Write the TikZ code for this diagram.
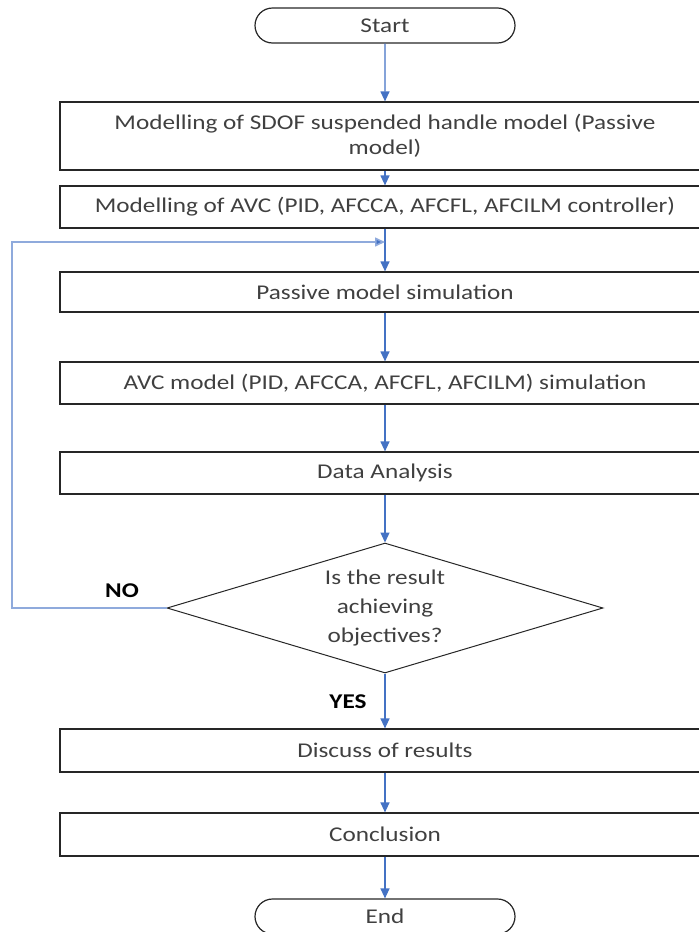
\documentclass[tikz,border=0pt]{standalone}
\usepackage{fontspec}
\setmainfont{Carlito}[FakeStretch=1.2]
\usetikzlibrary{shapes.geometric,shapes.misc,arrows.meta}
\definecolor{arrowblue}{HTML}{4472C4}
\definecolor{loopblue}{HTML}{8FAADC}
\definecolor{txt}{HTML}{404040}
\begin{document}
\begin{tikzpicture}[x=1pt,y=-1pt,
  base/.style={draw=black!85, line width=1.2pt, text=txt, font=\fontsize{21}{25}\selectfont, inner sep=0pt},
  procbox/.style={base, rectangle, minimum width=650pt, align=center},
  term/.style={base, rounded rectangle, minimum width=260pt, minimum height=35pt},
  decision/.style={base, diamond, shape aspect=3.354, minimum width=436pt, minimum height=130pt, align=center, line width=1pt, font=\fontsize{21}{29}\selectfont},
  flow/.style={draw=arrowblue, line width=1.2pt, -{Triangle[width=9pt,length=10pt]}},
  loopline/.style={draw=loopblue, line width=1.6pt, -{Triangle[width=9pt,length=10pt,fill=arrowblue]}},
  lbl/.style={font=\fontsize{21}{25}\selectfont\bfseries, text=black}
]
\useasboundingbox (0,0) rectangle (699,932);
\clip (0,0) rectangle (699,932);

\node[term] (start) at (385,25.5) {Start};
\node[procbox, minimum height=68pt] (b1) at (385,136) {Modelling of SDOF suspended handle model  (Passive\\model)};
\node[procbox, minimum height=42pt] (b2) at (385,207) {Modelling of AVC  (PID, AFCCA,  AFCFL,  AFCILM  controller)};
\node[procbox, minimum height=40pt] (b3) at (385,292) {Passive model simulation};
\node[procbox, minimum height=42pt] (b4) at (385,383) {AVC model  (PID, AFCCA,  AFCFL,  AFCILM)  simulation};
\node[procbox, minimum height=42pt] (b5) at (385,473) {Data Analysis};
\node[decision] (dec) at (385,608) {Is the result\\achieving\\objectives?};
\node[procbox, minimum height=43pt] (b6) at (385,750.5) {Discuss of results};
\node[procbox, minimum height=43pt] (b7) at (385,834.5) {Conclusion};
\node[term] (end) at (385,916.5) {End};

\node[lbl] (no) at (122,591) {NO};
\node[lbl] (yes) at (348,702) {YES};

\coordinate (loopin) at (385,242);
\coordinate (loopcorner) at (12,242);

\draw[flow] (start) -- (b1);
\draw[flow] (b1) -- (b2);
\draw[flow] (b2) -- (b3);
\draw[flow] (b3) -- (b4);
\draw[flow] (b4) -- (b5);
\draw[flow] (b5) -- (dec);
\draw[flow] (dec) -- (b6);
\draw[flow] (b6) -- (b7);
\draw[flow] (b7) -- (end);
\draw[loopline] (dec.west) -| (loopcorner) -- (loopin);
\end{tikzpicture}
\end{document}
